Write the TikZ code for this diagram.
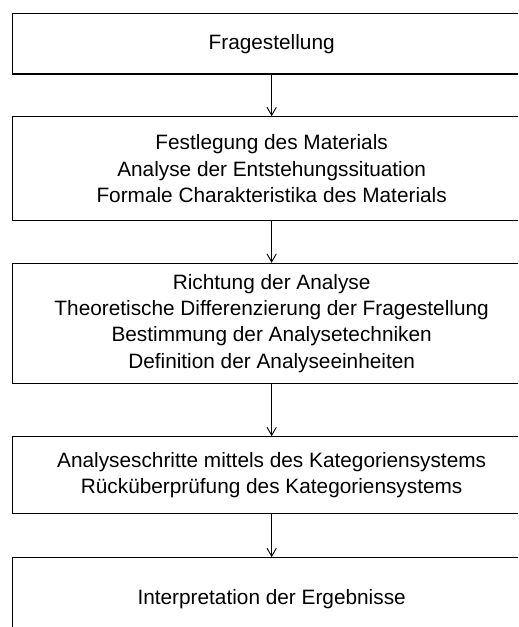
\documentclass[tikz,border=0pt]{standalone}
\usepackage{fontspec}
\setmainfont{Liberation Sans}
\usetikzlibrary{arrows.meta}
\begin{document}
\begin{tikzpicture}[x=0.75pt,y=-0.75pt,
  stage/.style={draw=black,line width=0.8pt,rectangle,inner sep=0pt,
    minimum width=388.9pt,align=center,
    font=\fontsize{15.6}{19.8}\selectfont},
  flow/.style={draw=black,line width=0.7pt,-{Straight Barb[length=6pt,width=7pt]}}]
  \useasboundingbox (0,0) rectangle (518,627);
  \clip (0,0) rectangle (518,627);
  % process stages, each wider than the page so that their right edges fall outside
  \node[stage,minimum height=45.5pt] (b1) at (271.65,43.65) {Fragestellung};
  \node[stage,minimum height=78pt] (b2) at (271.65,168.7)
    {Festlegung des Materials\\Analyse der Entstehungssituation\\Formale Charakteristika des Materials};
  \node[stage,minimum height=90pt] (b3) at (271.65,323.3)
    {Richtung der Analyse\\Theoretische Differenzierung der Fragestellung\\Bestimmung der Analysetechniken\\Definition der Analyseeinheiten};
  \node[stage,minimum height=57.5pt] (b4) at (271.65,475)
    {Analyseschritte mittels des Kategoriensystems\\Rückü\-berprüfung des Kategoriensystems};
  \node[stage,minimum height=62pt] (b5) at (271.65,599)
    {Interpretation der Ergebnisse};
  % connectors between the stages
  \draw[flow] (b1.south) -- (b2.north);
  \draw[flow] (b2.south) -- (b3.north);
  \draw[flow] (b3.south) -- (b4.north);
  \draw[flow] (b4.south) -- (b5.north);
\end{tikzpicture}
\end{document}
